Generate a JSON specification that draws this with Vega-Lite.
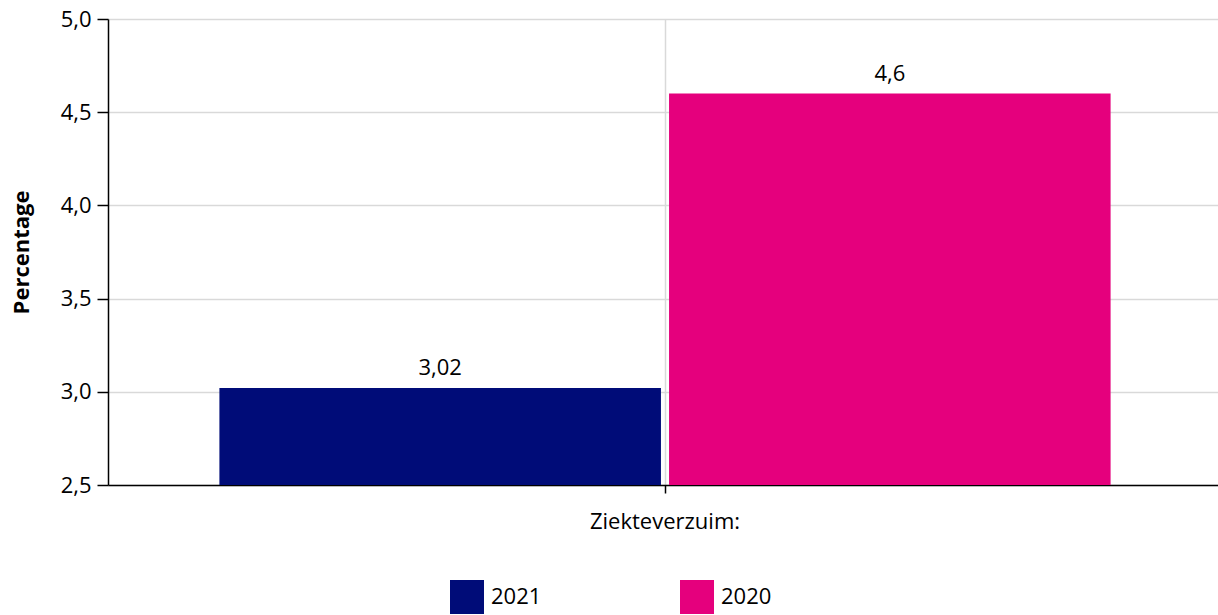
{
  "$schema": "https://vega.github.io/schema/vega-lite/v6.json",
  "autosize": {"type": "none"},
  "width": 1114,
  "height": 466,
  "padding": {"left": 108, "top": 19, "right": 0, "bottom": 130},
  "background": "white",
  "config": {
    "locale": {"number": {"decimal": ",", "thousands": ".", "grouping": [3], "currency": ["€", ""]}},
    "font": "Open Sans",
    "view": {"stroke": null}
  },
  "data": {"values": [
    {"categorie": "Ziekteverzuim:", "jaar": "2021", "percentage": 3.02},
    {"categorie": "Ziekteverzuim:", "jaar": "2020", "percentage": 4.6}
  ]},
  "encoding": {
    "x": {
      "field": "categorie", "type": "nominal", "title": null,
      "scale": {"paddingOuter": 0.125, "paddingInner": 0},
      "axis": {"labelAngle": 0, "labelFontSize": 22, "labelColor": "#000", "labelPadding": 18, "domainColor": "#000", "domainWidth": 1.5, "tickColor": "#000", "tickSize": 8, "tickWidth": 1.5, "grid": true, "gridColor": "#d9d9d9", "gridWidth": 1.5}
    },
    "xOffset": {"field": "jaar", "type": "nominal", "sort": ["2021", "2020"], "scale": {"paddingInner": 0.018}},
    "y": {
      "field": "percentage", "type": "quantitative", "title": "Percentage",
      "scale": {"domain": [2.5, 5], "zero": false, "nice": false},
      "axis": {"values": [2.5, 3, 3.5, 4, 4.5, 5], "format": ".1f", "labelFontSize": 22, "labelColor": "#000", "labelPadding": 6, "titleFontSize": 22, "titleFontWeight": "bold", "titleColor": "#000", "titlePadding": 27, "domainColor": "#000", "domainWidth": 1.5, "tickColor": "#000", "tickSize": 11, "tickWidth": 1.5, "gridColor": "#d9d9d9", "gridWidth": 1.5}
    }
  },
  "layer": [
    {
      "mark": {"type": "bar", "clip": true},
      "encoding": {
        "y2": {"datum": 2.5},
        "color": {
          "field": "jaar", "type": "nominal", "title": null, "sort": ["2021", "2020"],
          "scale": {"domain": ["2021", "2020"], "range": ["#000c78", "#e5007d"]},
          "legend": {"orient": "none", "legendX": 342, "legendY": 561, "padding": 0, "direction": "horizontal", "symbolType": "square", "symbolSize": 1156, "symbolStrokeWidth": 0, "labelFontSize": 22, "labelColor": "#000", "labelOffset": 7, "columnPadding": 138}
        }
      }
    },
    {
      "mark": {"type": "text", "baseline": "bottom", "dy": -8, "fontSize": 22, "color": "#000"},
      "encoding": {"text": {"field": "percentage", "type": "quantitative", "format": "~f"}}
    }
  ]
}
